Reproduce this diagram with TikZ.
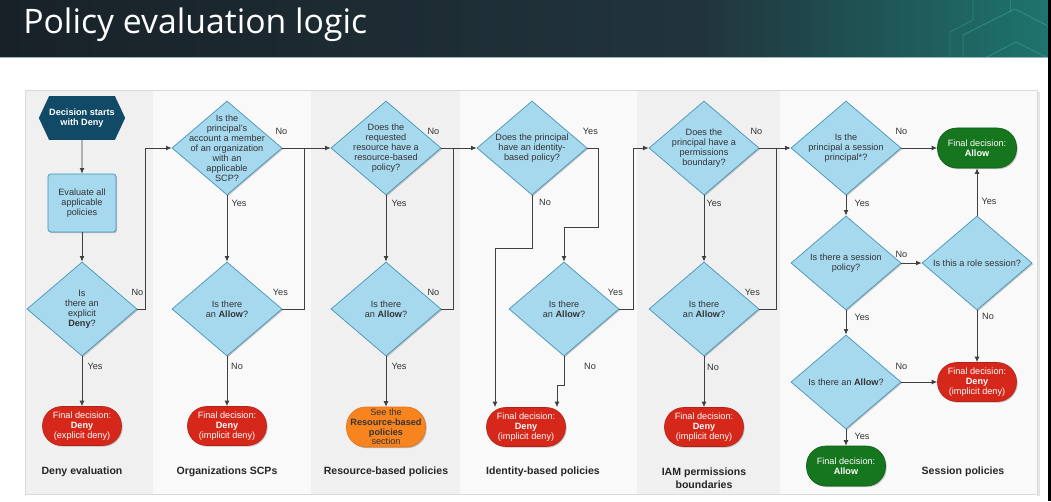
\documentclass[tikz,border=0pt]{standalone}
\usepackage{fontspec}
\setmainfont{Liberation Sans}
\newfontfamily\titlefont{Open Sans}
\usepackage{tikz}
\usetikzlibrary{arrows.meta,calc,shapes.geometric,shapes.symbols,shadows}
\definecolor{barleft}{RGB}{24,33,40}
\definecolor{barmid}{RGB}{33,52,60}
\definecolor{barright}{RGB}{30,116,110}
\definecolor{hexline}{RGB}{70,180,168}
\definecolor{barrule}{RGB}{150,182,182}
\definecolor{navyhex}{RGB}{16,74,102}
\definecolor{qblue}{RGB}{166,216,238}
\definecolor{qedge}{RGB}{72,150,184}
\definecolor{denyred}{RGB}{214,40,26}
\definecolor{denyedge}{RGB}{180,32,20}
\definecolor{allowgreen}{RGB}{22,118,30}
\definecolor{allowedge}{RGB}{14,92,20}
\definecolor{seeorange}{RGB}{248,132,32}
\definecolor{seeedge}{RGB}{226,112,22}
\definecolor{lanedark}{RGB}{240,240,240}
\definecolor{lanelight}{RGB}{249,249,249}
\definecolor{framegrey}{RGB}{218,218,218}
\definecolor{linegrey}{RGB}{64,64,64}
\definecolor{txtgrey}{RGB}{51,51,51}
\newcommand{\smallfont}{\fontsize{6.5}{7.1}\selectfont}
\tikzset{
  softshadow/.style={drop shadow={shadow xshift=0.8pt, shadow yshift=-0.8pt, fill=black, opacity=0.22}},
  question/.style={diamond, draw=qedge, fill=qblue, line width=0.5pt, minimum width=2.75cm, minimum height=2.35cm, inner sep=0pt, softshadow},
  qtext/.style={font=\smallfont, text=txtgrey, align=center, inner sep=0pt},
  startbox/.style={signal, signal to=west and east, signal pointer angle=130, fill=navyhex, draw=navyhex, minimum width=1.975cm, minimum height=1.075cm, inner sep=0pt, text=white, font=\smallfont\bfseries, align=center},
  evalbox/.style={rectangle, rounded corners=2pt, draw=qedge, fill=qblue, line width=0.5pt, minimum width=1.7cm, minimum height=1.45cm, align=center, softshadow},
  denyoval/.style={rectangle, rounded corners=0.48cm, draw=denyedge, fill=denyred, minimum width=1.975cm, minimum height=0.975cm, inner sep=0pt, text=white, align=center, softshadow},
  allowoval/.style={denyoval, draw=allowedge, fill=allowgreen, minimum height=1cm},
  seeoval/.style={denyoval, draw=seeedge, fill=seeorange, minimum height=1cm, text=txtgrey, font=\fontsize{6.5}{6.9}\selectfont},
  lanetitle/.style={font=\fontsize{7.5}{9}\selectfont\bfseries, text=black!85, align=center},
  lbl/.style={font=\smallfont, text=txtgrey, inner sep=0pt},
  flow/.style={draw=linegrey, line width=0.6pt, -{Latex[length=4pt,width=3.5pt]}},
  link/.style={draw=linegrey, line width=0.6pt}
}
\begin{document}
\begin{tikzpicture}[x=0.025cm, y=-0.025cm, every node/.style={font=\smallfont, text=txtgrey}]
\useasboundingbox (0,0) rectangle (1051,501);
\fill[white] (0,0) rectangle (1051,501);
\shade[left color=barleft, right color=barmid] (0,0) rectangle (700,57.5);
\shade[left color=barmid, right color=barright] (700,0) rectangle (1048,57.5);
\draw[hexline, opacity=0.45, line width=0.6pt] (963,58) -- (963,35) -- (1015,9) -- (1048,26);
\draw[hexline, opacity=0.45, line width=0.6pt] (985,58) -- (1016,42) -- (1048,58);
\draw[hexline, opacity=0.35, line width=0.6pt] (973,0) -- (973,20) -- (950,32) -- (950,58);
\draw[hexline, opacity=0.35, line width=0.6pt] (1010,0) -- (1010,12);
\draw[barrule, line width=0.7pt] (0,57.6) -- (1048,57.6);
\fill[black] (1048,0) rectangle (1051,501);
\node[font=\titlefont\fontsize{24}{28}\selectfont, text=white, anchor=base west, inner sep=0pt] (title) at (23,33) {Policy evaluation logic};
\fill[black!10] (1037,92) rectangle (1039.5,496);
\fill[lanedark] (25,90) rectangle (153,494);
\fill[lanelight] (153,90) rectangle (311,494);
\fill[lanedark] (311,90) rectangle (460,494);
\fill[lanelight] (460,90) rectangle (637,494);
\fill[lanedark] (637,90) rectangle (780,494);
\fill[lanelight] (780,90) rectangle (1037,494);
\draw[framegrey, line width=0.5pt] (25,90) rectangle (1037,494);
\node[startbox] (start) at (82,118) {Decision starts\\with Deny};
\node[evalbox] (evalall) at (82,203) {Evaluate all\\applicable\\policies};
\node[question, label={[qtext]center:Is\\there an\\explicit\\\textbf{Deny}?}] (explicitq) at (82,309) {};
\node[denyoval] (denyexp) at (82,426) {Final decision:\\\textbf{Deny}\\(explicit deny)};
\node[question, label={[qtext]center:Is the\\principal's\\account a member\\of an organization\\with an\\applicable\\SCP?}] (orgq) at (227,148) {};
\node[question, label={[qtext]center:Is there\\an \textbf{Allow}?}] (orgallowq) at (227,309) {};
\node[denyoval] (orgdeny) at (227,426) {Final decision:\\\textbf{Deny}\\(implicit deny)};
\node[question, label={[qtext]center:Does the\\requested\\resource have a\\resource-based\\policy?}] (resq) at (386,148) {};
\node[question, label={[qtext]center:Is there\\an \textbf{Allow}?}] (resallowq) at (386,309) {};
\node[seeoval] (resee) at (386,427) {See the\\\textbf{Resource-based}\\\textbf{policies}\\section};
\node[question, label={[qtext]center:Does the principal\\have an identity-\\based policy?}] (idq) at (532,148) {};
\node[question, label={[qtext]center:Is there\\an \textbf{Allow}?}] (idallowq) at (564,309) {};
\node[denyoval] (iddeny) at (526,427) {Final decision:\\\textbf{Deny}\\(implicit deny)};
\node[question, label={[qtext]center:Does the\\principal have a\\permissions\\boundary?}] (pbq) at (704,148) {};
\node[question, label={[qtext]center:Is there\\an \textbf{Allow}?}] (pballowq) at (704,309) {};
\node[denyoval] (pbdeny) at (704,427) {Final decision:\\\textbf{Deny}\\(implicit deny)};
\node[question, label={[qtext]center:Is the\\principal a session\\principal*?}] (sessq) at (846,148) {};
\node[allowoval] (allowtop) at (977,148) {Final decision:\\\textbf{Allow}};
\node[question, label={[qtext]center:Is there a session\\policy?}] (sesspolq) at (846,263) {};
\node[question, label={[qtext]center:Is this a role session?}] (roleq) at (977,263) {};
\node[question, label={[qtext]center:Is there an \textbf{Allow}?}] (sessallowq) at (846,382) {};
\node[denyoval] (sessdeny) at (977,382) {Final decision:\\\textbf{Deny}\\(implicit deny)};
\node[allowoval] (allowbot) at (846,466) {Final decision:\\\textbf{Allow}};
\node[lanetitle] (denylane) at (82,472) {Deny evaluation};
\node[lanetitle] (orglane) at (227,472) {Organizations SCPs};
\node[lanetitle] (reslane) at (386,472) {Resource-based policies};
\node[lanetitle] (idlane) at (543,472) {Identity-based policies};
\node[lanetitle] (pblane) at (704,478) {IAM permissions\\boundaries};
\node[lanetitle] (sesslane) at (963,472) {Session policies};
\coordinate (orgjoin) at (304,148);
\coordinate (resjoin) at (453,148);
\coordinate (idbendr) at (598,227);
\coordinate (idbendl) at (495,248);
\coordinate (idbendn) at (557,385);
\coordinate (idjoin) at (633,148);
\coordinate (pbjoin) at (776,148);
\draw[flow] (start) -- (evalall);
\draw[flow] (evalall) -- (explicitq);
\draw[flow] (explicitq.east) node[lbl, shift={(0,-17)}] {No} -- ++(8,0) |- (orgq.west);
\draw[flow] (explicitq.south) node[lbl, shift={(13,10)}] {Yes} -- (denyexp);
\draw[flow] (orgq.east) node[lbl, shift={(-1,-17)}] {No} -- (resq.west);
\draw[flow] (orgq.south) node[lbl, shift={(12,8)}] {Yes} -- (orgallowq);
\draw[link] (orgallowq.east) node[lbl, shift={(-2,-17)}] {Yes} -| (orgjoin);
\draw[flow] (orgallowq.south) node[lbl, shift={(10,10)}] {No} -- (orgdeny);
\draw[flow] (resq.east) node[lbl, shift={(-8,-17)}] {No} -- (idq.west);
\draw[flow] (resq.south) node[lbl, shift={(13,8)}] {Yes} -- (resallowq);
\draw[link] (resallowq.east) node[lbl, shift={(-8,-17)}] {No} -| (resjoin);
\draw[flow] (resallowq.south) node[lbl, shift={(13,10)}] {Yes} -- (resee);
\draw[flow] (idq.east) node[lbl, shift={(3,-17)}] {Yes} -| (idbendr) -| (idallowq.north);
\draw[flow] (idq.south) node[lbl, shift={(13,7)}] {No} |- (idbendl) -- (idbendl |- iddeny.north);
\draw[flow] (idallowq.east) node[lbl, shift={(-4,-17)}] {Yes} -| (idjoin) -- (pbq.west);
\draw[flow] (idallowq.south) node[lbl, shift={(26,10)}] {No} |- (idbendn) -- (idbendn |- iddeny.north);
\draw[flow] (pbq.east) node[lbl, shift={(-3,-17)}] {No} -- (sessq.west);
\draw[flow] (pbq.south) node[lbl, shift={(10,8)}] {Yes} -- (pballowq);
\draw[link] (pballowq.east) node[lbl, shift={(-7,-17)}] {Yes} -| (pbjoin);
\draw[flow] (pballowq.south) node[lbl, shift={(9,11)}] {No} -- (pbdeny);
\draw[flow] (sessq.east) node[lbl, shift={(0,-17)}] {No} -- (allowtop);
\draw[flow] (sessq.south) node[lbl, shift={(16,8)}] {Yes} -- (sesspolq);
\draw[flow] (sesspolq.east) node[lbl, shift={(0,-9)}] {No} -- (roleq);
\draw[flow] (roleq.north) node[lbl, shift={(12,-14)}] {Yes} -- (allowtop);
\draw[flow] (roleq.south) node[lbl, shift={(11,6)}] {No} -- (sessdeny);
\draw[flow] (sesspolq.south) node[lbl, shift={(16,7)}] {Yes} -- (sessallowq);
\draw[flow] (sessallowq.east) node[lbl, shift={(0,-16)}] {No} -- (sessdeny);
\draw[flow] (sessallowq.south) node[lbl, shift={(16,7)}] {Yes} -- (allowbot);
\end{tikzpicture}
\end{document}
